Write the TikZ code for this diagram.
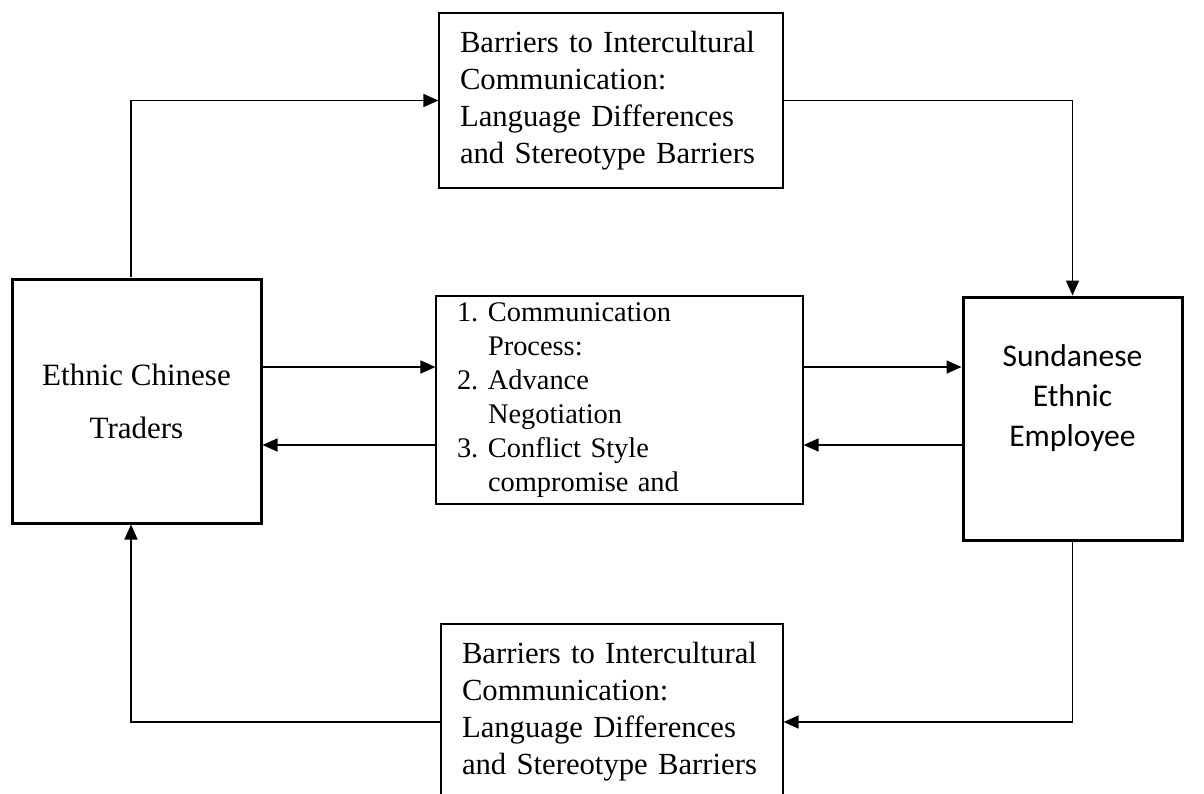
\documentclass[tikz,border=0pt]{standalone}
\usepackage{fontspec}
\setmainfont{Liberation Serif}
\newfontfamily\calfont{Carlito}
\usetikzlibrary{arrows.meta}
\begin{document}
\begin{tikzpicture}[x=1pt,y=-1pt,
  thinbox/.style={draw, line width=1.2pt, inner xsep=21pt, inner ysep=0pt, align=left},
  thickbox/.style={draw, line width=3pt, inner sep=0pt, align=center},
  conn/.style={line width=1.6pt, -{Triangle[length=15pt,width=13pt]}}]
\useasboundingbox (0,0) rectangle (1204,794);
\clip (0,0) rectangle (1204,794);
% boxes
\node[thinbox, minimum width=344, minimum height=175, text width=302,
  font=\fontsize{30.7}{37}\selectfont] (tbox) at (611,100.5)
  {Barriers to Intercultural\\Communication:\\Language Differences\\and Stereotype Barriers};
\node[thickbox, minimum width=249, minimum height=244,
  font=\fontsize{31}{53}\selectfont] (lbox) at (136.5,401) {Ethnic Chinese\\Traders};
\node[thinbox, minimum width=367, minimum height=208, text width=325,
  font=\fontsize{28.4}{34}\selectfont] (mbox) at (619.5,400)
  {\makebox[31pt][l]{1.}Communication\\\hspace*{31pt}Process:\\
   \makebox[31pt][l]{2.}Advance\\\hspace*{31pt}Negotiation\\
   \makebox[31pt][l]{3.}Conflict Style\\\hspace*{31pt}compromise and};
\node[thickbox, minimum width=219, minimum height=243] (rbox) at (1072.5,418.5) {};
\node[align=center, font=\calfont\fontsize{31.6}{40}\selectfont] (rtext)
  at ([yshift=20.5pt]rbox.center) {Sundanese\\Ethnic\\Employee};
\node[thinbox, minimum width=342, minimum height=175, text width=300,
  font=\fontsize{30.7}{37}\selectfont] (bbox) at (612,711.5)
  {Barriers to Intercultural\\Communication:\\Language Differences\\and Stereotype Barriers};
% helper rows and columns
\coordinate (lcol) at (131,0);
\coordinate (rowa) at (0,367);
\coordinate (rowb) at (0,445);
\coordinate (rowc) at (0,722);
% connectors
\draw[conn] (lbox.north -| lcol) |- (tbox.west);
\draw[conn] (tbox.east) -| (rbox.north);
\draw[conn] (lbox.east |- rowa) -- (mbox.west |- rowa);
\draw[conn] (mbox.west |- rowb) -- (lbox.east |- rowb);
\draw[conn] (mbox.east |- rowa) -- (rbox.west |- rowa);
\draw[conn] (rbox.west |- rowb) -- (mbox.east |- rowb);
\draw[conn] (rbox.south) |- (bbox.east |- rowc);
\draw[conn] (bbox.west |- rowc) -| (lbox.south -| lcol);
\end{tikzpicture}
\end{document}
